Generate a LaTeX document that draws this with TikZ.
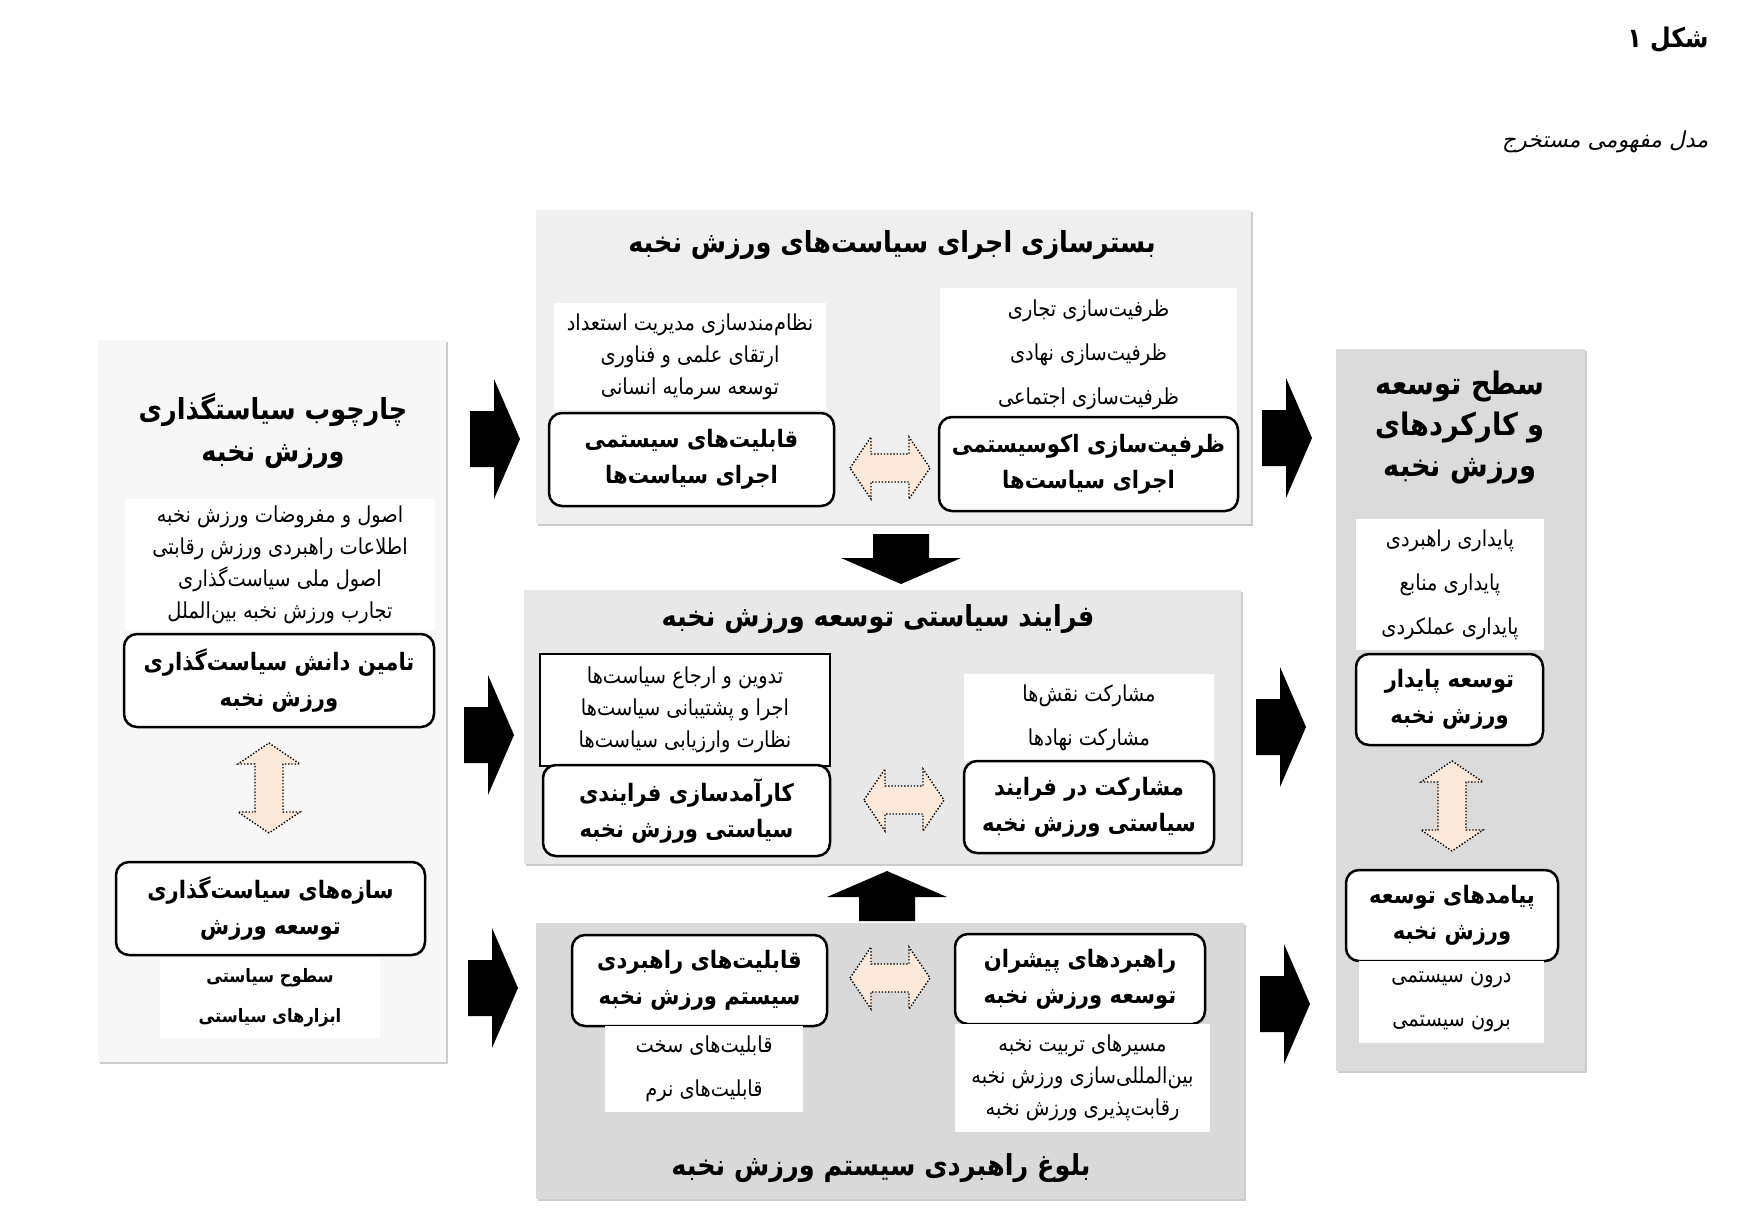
\documentclass[tikz,border=0pt]{standalone}
\usepackage{fontspec}
\newfontfamily\arabicfont[Script=Arabic,FakeStretch=0.88]{DejaVu Sans}
\newfontfamily\arabicslant[Script=Arabic,FakeSlant=0.2]{DejaVu Sans}
\TeXXeTstate=1
\usetikzlibrary{shadows}

\definecolor{peach}{HTML}{FDE9D9}
\definecolor{panelL}{HTML}{F7F7F7}
\definecolor{panelT}{HTML}{EFEFEF}
\definecolor{panelM}{HTML}{E8E8E8}
\definecolor{panelB}{HTML}{D9D9D9}
\definecolor{panelR}{HTML}{DBDBDB}

\newcommand{\fa}[1]{\beginR #1\endR}

\begin{document}
\begin{tikzpicture}[x=1pt, y=-1pt,
    panel/.style={inner sep=0pt, drop shadow={shadow xshift=2pt, shadow yshift=-2pt, fill=black, opacity=0.2}},
    ptitle/.style={align=center, font=\arabicfont\bfseries\fontsize{29}{42}\selectfont},
    itemlist/.style={fill=white, inner sep=0pt, align=center, font=\arabicfont\fontsize{22}{32}\selectfont},
    widelist/.style={itemlist, font=\arabicfont\fontsize{22}{44}\selectfont},
    keybox/.style={draw, line width=2.5pt, rounded corners=13pt, fill=white, inner sep=0pt, align=center,
        font=\arabicfont\bfseries\fontsize{24}{36}\selectfont},
    dotarrow/.style={draw=black, fill=peach, line width=1.4pt, dash pattern=on 1.4pt off 1.8pt},
    pics/fatarrow/.style={code={
        \fill[black] (-25,-28) -- (-1,-28) -- (-1,-60) -- (25,0) -- (-1,60) -- (-1,28) -- (-25,28) -- cycle;}},
    pics/dblarrow/.style={code={
        \draw[dotarrow] (-#1,0) -- (-#1+21,-31) -- (-#1+21,-14) -- (#1-21,-14) -- (#1-21,-31) -- (#1,0)
            -- (#1-21,31) -- (#1-21,14) -- (-#1+21,14) -- (-#1+21,31) -- cycle;}}]
    \useasboundingbox (0,0) rectangle (1749,1219);

    % figure caption
    \node[anchor=east, font=\arabicfont\bfseries\fontsize{27}{30}\selectfont] (figno) at (1712,40) {\fa{شکل ۱}};
    \node[anchor=east, font=\arabicslant\fontsize{22}{28}\selectfont] (figcap) at (1712,142) {\fa{مدل مفهومی مستخرج}};

    % panels
    \node[panel, fill=panelL, minimum width=348pt, minimum height=722pt] (lp) at (272,701) {};
    \node[panel, fill=panelT, minimum width=715pt, minimum height=314pt] (tp) at (893.5,367) {};
    \node[panel, fill=panelM, minimum width=717pt, minimum height=274pt] (mp) at (882.5,727) {};
    \node[panel, fill=panelB, minimum width=708pt, minimum height=276pt] (bp) at (890,1061) {};
    \node[panel, fill=panelR, minimum width=249pt, minimum height=722pt] (rp) at (1460.5,710) {};

    % left panel
    \node[ptitle] (lptitle) at (273,431) {\fa{چارچوب سیاستگذاری}\\\fa{ورزش نخبه}};
    \node[itemlist, minimum width=310pt, minimum height=131pt] (lplist) at (280,564.5)
        {\fa{اصول و مفروضات ورزش نخبه}\\\fa{اطلاعات راهبردی ورزش رقابتی}\\
         \fa{اصول ملی سیاست^^^^200cگذاری}\\\fa{تجارب  ورزش نخبه بین^^^^200cالملل}};
    \node[keybox, minimum width=310pt, minimum height=93pt] (kb) at (279,680.5)
        {\fa{تامین دانش سیاست^^^^200cگذاری}\\\fa{ورزش نخبه}};
    \pic[rotate=90] at (269,788) {dblarrow=45};
    \node[keybox, minimum width=309pt, minimum height=93pt] (sb) at (270.5,908.5)
        {\fa{سازه^^^^200cهای سیاست^^^^200cگذاری}\\\fa{توسعه ورزش}};
    \node[itemlist, minimum width=220pt, minimum height=80pt, font=\arabicfont\bfseries\fontsize{18.5}{40}\selectfont]
        (sblist) at (270,998) {\fa{سطوح سیاستی}\\\fa{ابزارهای سیاستی}};

    % top panel
    \node[ptitle] (tptitle) at (892,245) {\fa{بسترسازی اجرای سیاست^^^^200cهای ورزش نخبه}};
    \node[itemlist, minimum width=272pt, minimum height=107pt] (tlL) at (690,356.5)
        {\fa{نظام^^^^200cمندسازی مدیریت استعداد}\\\fa{ارتقای علمی و فناوری}\\\fa{توسعه سرمایه انسانی}};
    \node[widelist, minimum width=297pt, minimum height=134pt] (tlR) at (1088.5,355)
        {\fa{ظرفیت^^^^200cسازی تجاری}\\\fa{ظرفیت^^^^200cسازی نهادی}\\\fa{ظرفیت^^^^200cسازی اجتماعی}};
    \node[keybox, minimum width=285pt, minimum height=93pt] (tbL) at (691.5,459.5)
        {\fa{قابلیت^^^^200cهای سیستمی}\\\fa{اجرای سیاست^^^^200cها}};
    \node[keybox, minimum width=299pt, minimum height=94pt] (tbR) at (1088.5,464)
        {\fa{ظرفیت^^^^200cسازی اکوسیستمی}\\\fa{اجرای سیاست^^^^200cها}};
    \pic at (890,468) {dblarrow=40};

    % middle panel
    \node[ptitle] (mptitle) at (878,619) {\fa{فرایند سیاستی توسعه ورزش نخبه}};
    \node[itemlist, draw, line width=1.5pt, minimum width=290pt, minimum height=112pt] (mlL) at (685,710)
        {\fa{تدوین و ارجاع سیاست^^^^200cها}\\\fa{اجرا و پشتیبانی سیاست^^^^200cها}\\\fa{نظارت وارزیابی سیاست^^^^200cها}};
    \node[keybox, minimum width=287pt, minimum height=91pt] (mbL) at (686.5,810.5)
        {\fa{کارآمدسازی فرایندی}\\\fa{سیاستی ورزش نخبه}};
    \node[widelist, minimum width=250pt, minimum height=87pt] (mlR) at (1089,717.5)
        {\fa{مشارکت نقش^^^^200cها}\\\fa{مشارکت نهادها}};
    \node[keybox, minimum width=250pt, minimum height=92pt] (mbR) at (1089,807)
        {\fa{مشارکت در فرایند}\\\fa{سیاستی ورزش نخبه}};
    \pic at (904,800) {dblarrow=40};

    % bottom panel
    \node[keybox, minimum width=255pt, minimum height=91pt] (bbL) at (699.5,980.5)
        {\fa{قابلیت^^^^200cهای راهبردی}\\\fa{سیستم ورزش نخبه}};
    \node[widelist, minimum width=198pt, minimum height=86pt] (blL) at (704,1069)
        {\fa{قابلیت^^^^200cهای سخت}\\\fa{قابلیت^^^^200cهای نرم}};
    \node[keybox, minimum width=250pt, minimum height=90pt] (bbR) at (1080,979)
        {\fa{راهبردهای پیشران}\\\fa{توسعه ورزش نخبه}};
    \node[itemlist, minimum width=255pt, minimum height=108pt] (blR) at (1082.5,1078)
        {\fa{مسیرهای تربیت نخبه}\\\fa{بین^^^^200cالمللی^^^^200cسازی ورزش نخبه}\\\fa{رقابت^^^^200cپذیری ورزش نخبه}};
    \pic at (890,978) {dblarrow=40};
    \node[ptitle] (bptitle) at (881,1168) {\fa{بلوغ راهبردی سیستم ورزش نخبه}};

    % right panel
    \node[ptitle, font=\arabicfont\bfseries\fontsize{31}{41}\selectfont] (rptitle) at (1460,427)
        {\fa{سطح توسعه}\\\fa{و کارکردهای}\\\fa{ورزش نخبه}};
    \node[widelist, minimum width=188pt, minimum height=131pt] (rlist) at (1450,584.5)
        {\fa{پایداری راهبردی}\\\fa{پایداری منابع}\\\fa{پایداری عملکردی}};
    \node[keybox, minimum width=187pt, minimum height=91pt] (rb1) at (1449.5,699.5)
        {\fa{توسعه پایدار}\\\fa{ورزش نخبه}};
    \pic[rotate=90] at (1452,806) {dblarrow=45};
    \node[keybox, minimum width=212pt, minimum height=91pt] (rb2) at (1452,915.5)
        {\fa{پیامدهای توسعه}\\\fa{ورزش نخبه}};
    \node[widelist, minimum width=185pt, minimum height=82pt] (rlist2) at (1451.5,1002)
        {\fa{درون سیستمی}\\\fa{برون سیستمی}};

    % block arrows between panels
    \foreach \px/\py/\rot in {495/439/0, 489/735/0, 493/988/0, 1287/438/0, 1281/727/0,
                              1285/1004/0, 901/559/-90, 887/896/90}
        \pic[rotate=\rot] at (\px,\py) {fatarrow};
\end{tikzpicture}
\end{document}
